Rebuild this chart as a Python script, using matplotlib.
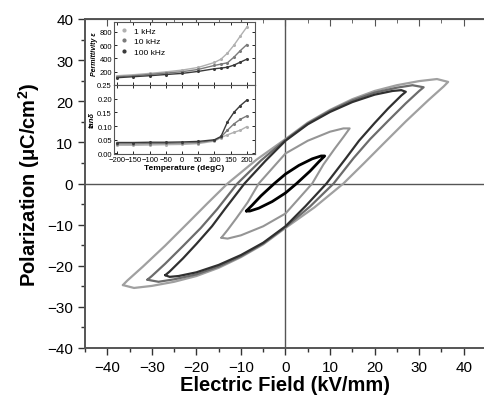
import matplotlib

matplotlib.use("Agg")
import matplotlib.pyplot as plt
from matplotlib.lines import Line2D
from matplotlib.ticker import MultipleLocator

# ---- P-E loops (E in kV/mm, P in uC/cm2), upper branch then lower branch ----
# innermost black loop
loopA_E = [-8.8, -7.5, -5.5, -2.5, 0, 3, 6, 8, 8.8,
           7.5, 5.5, 2.5, 0, -3, -6, -8, -8.8]
loopA_P = [-6.7, -5.3, -3.0, 0, 2.3, 4.4, 6.0, 6.7, 6.7,
           5.3, 3.0, 0, -2.3, -4.4, -6.0, -6.7, -6.7]

# medium gray loop
loopB_E = [-14.4, -13, -11, -8.5, -6, 0, 5, 10, 13, 14.4,
           13, 11, 8.5, 6, 0, -5, -10, -13, -14.4]
loopB_P = [-13.2, -11.3, -8.4, -4.6, 0, 7.3, 10.4, 12.6, 13.4, 13.4,
           11.3, 8.4, 4.6, 0, -7.3, -10.4, -12.6, -13.4, -13.2]

# dark loop
loopC_E = [-27, -26, -23, -20, -16.5, -13.6, -9.2, -4.5, 0, 5, 10, 15, 20, 24, 26, 27,
           26, 23, 20, 16.5, 13.6, 9.2, 4.5, 0, -5, -10, -15, -20, -24, -26, -27]
loopC_P = [-22.3, -21.4, -18.2, -14.7, -10.4, -6.2, 0, 5.5, 10.4, 14.4, 17.4, 19.8, 21.6, 22.5, 22.7, 22.3,
           21.4, 18.2, 14.7, 10.4, 6.2, 0, -5.5, -10.4, -14.4, -17.4, -19.8, -21.6, -22.5, -22.7, -22.3]

# mid-gray loop
loopD_E = [-31, -30, -27, -23, -19, -15.3, -10.8, -5.5, 0, 5, 10, 15, 20, 25, 28.5, 31,
           30, 27, 23, 19, 15.3, 10.8, 5.5, 0, -5, -10, -15, -20, -25, -28.5, -31]
loopD_P = [-23.4, -22.5, -19.5, -15.2, -10.8, -6.2, 0, 5.6, 10.6, 14.6, 17.7, 20.2, 22.1, 23.3, 23.9, 23.4,
           22.5, 19.5, 15.2, 10.8, 6.2, 0, -5.6, -10.6, -14.6, -17.7, -20.2, -22.1, -23.3, -23.9, -23.4]

# outer light loop
loopE_E = [-36.5, -35.5, -32, -27, -22, -17.5, -13, -6.5, 0, 5, 10, 15, 20, 25, 30, 34, 36.5,
           35.5, 32, 27, 22, 17.5, 13, 6.5, 0, -5, -10, -15, -20, -25, -30, -34, -36.5]
loopE_P = [-24.7, -23.6, -20.2, -15.1, -9.7, -4.8, 0, 5.8, 10.8, 14.8, 17.9, 20.5, 22.5, 23.9, 24.9, 25.4, 24.7,
           23.6, 20.2, 15.1, 9.7, 4.8, 0, -5.8, -10.8, -14.8, -17.9, -20.5, -22.5, -23.9, -24.9, -25.4, -24.7]

# ---- inset: dielectric data vs temperature ----
temp = [-200, -150, -100, -50, 0, 50, 100, 120, 140, 160, 180, 200]
perm_1k = [140, 155, 175, 198, 225, 265, 340, 390, 480, 600, 740, 875]
perm_10k = [125, 140, 160, 180, 200, 235, 295, 315, 335, 420, 520, 610]
perm_100k = [110, 125, 140, 158, 175, 205, 245, 255, 268, 300, 345, 390]
tan_1k = [0.030, 0.030, 0.031, 0.032, 0.033, 0.036, 0.045, 0.058, 0.068, 0.077, 0.085, 0.098]
tan_10k = [0.035, 0.035, 0.036, 0.037, 0.038, 0.040, 0.048, 0.060, 0.085, 0.108, 0.125, 0.137]
tan_100k = [0.040, 0.040, 0.041, 0.041, 0.042, 0.044, 0.050, 0.062, 0.115, 0.150, 0.175, 0.195]
freq_labels = ["1 kHz", "10 kHz", "100 kHz"]
freq_colors = ["#b0b0b0", "#7a7a7a", "#3a3a3a"]

plt.rcParams.update({
    "font.family": ["Liberation Sans", "DejaVu Sans"],
    "mathtext.fontset": "custom",
    "mathtext.rm": "Liberation Sans",
    "mathtext.bf": "Liberation Sans:bold",
})

fig = plt.figure(figsize=(4.85, 4.06), dpi=100)
# right spine sits just past the picture edge, as in the source scan
ax = fig.add_axes([85 / 485, 57 / 406, 401 / 485, 329 / 406])

ax.axhline(0, color="#555555", lw=1.0, zorder=1)
ax.axvline(0, color="#555555", lw=1.0, zorder=1)

loops = [
    (loopE_E, loopE_P, "#a0a0a0", 1.6),
    (loopD_E, loopD_P, "#6c6c6c", 1.6),
    (loopC_E, loopC_P, "#303030", 1.6),
    (loopB_E, loopB_P, "#959595", 1.5),
    (loopA_E, loopA_P, "#000000", 2.0),
]
for xs, ys, col, lw in loops:
    ax.plot(xs, ys, color=col, lw=lw, solid_joinstyle="round", solid_capstyle="round", zorder=2)

ax.set_xlim(-45, 45)
ax.set_ylim(-40, 40)
ax.xaxis.set_major_locator(MultipleLocator(10))
ax.xaxis.set_minor_locator(MultipleLocator(5))
ax.yaxis.set_major_locator(MultipleLocator(10))
ax.yaxis.set_minor_locator(MultipleLocator(5))
ax.tick_params(which="both", direction="out", labelsize=11, width=1, colors="#333333", labelcolor="black")
ax.tick_params(which="major", length=5)
ax.tick_params(which="minor", length=3)
for s in ax.spines.values():
    s.set_color("#555555")
    s.set_linewidth(1.4)

# mirrored inward ticks on top
top = ax.secondary_xaxis("top")
top.xaxis.set_major_locator(MultipleLocator(10))
top.xaxis.set_minor_locator(MultipleLocator(5))
top.tick_params(which="both", direction="in", labeltop=False, colors="#555555")
top.tick_params(which="major", length=5)
top.tick_params(which="minor", length=3)

ax.set_xlabel("Electric Field (kV/mm)", fontsize=14.5, fontweight="bold", labelpad=1)
ax.set_ylabel("Polarization (\u03bcC/cm$\\mathbf{^2}$)", fontsize=14.5, fontweight="bold", labelpad=4)

# ---- inset ----
ins1 = fig.add_axes([114 / 485, (406 - 86) / 406, 141 / 485, 63 / 406])
ins2 = fig.add_axes([114 / 485, (406 - 155) / 406, 141 / 485, 69 / 406], sharex=ins1)

for perm, col in zip([perm_1k, perm_10k, perm_100k], freq_colors):
    ins1.plot(temp, perm, color=col, lw=1.0, marker="o", ms=1.2)
for tan, col in zip([tan_1k, tan_10k, tan_100k], freq_colors):
    ins2.plot(temp, tan, color=col, lw=1.0, marker="o", ms=1.2)

ins1.set_xlim(-210, 225)
ins1.set_ylim(0, 950)
ins1.set_yticks([200, 400, 600, 800])
ins2.set_ylim(-0.002, 0.25)
ins2.set_yticks([0.0, 0.05, 0.10, 0.15, 0.20, 0.25])
ins2.set_yticklabels(["0.00", "0.05", "0.10", "0.15", "0.20", "0.25"])
ins2.set_xticks([-200, -150, -100, -50, 0, 50, 100, 150, 200])
for a in (ins1, ins2):
    a.set_facecolor("white")
    a.tick_params(which="both", direction="in", labelsize=5.5, length=2, width=0.6,
                  top=True, right=True, pad=1.5)
    for s in a.spines.values():
        s.set_color("#555555")
        s.set_linewidth(0.8)
ins1.tick_params(labelbottom=False)

ins1.set_ylabel("Permittivity \u03b5", fontsize=5, fontstyle="italic", fontweight="bold", labelpad=1)
ins2.set_ylabel("tan\u03b4", fontsize=5.5, fontstyle="italic", fontweight="bold", labelpad=1)
ins2.set_xlabel("Temperature (degC)", fontsize=6, fontweight="bold", labelpad=0.5)

handles = [Line2D([], [], color=c, marker="o", ls="None", ms=2) for c in freq_colors]
ins1.legend(handles, freq_labels, loc="upper left", frameon=False, fontsize=6,
            handletextpad=0.6, borderaxespad=0.2, labelspacing=0.3, handlelength=1.2)

fig.savefig("out.png", dpi=100)
